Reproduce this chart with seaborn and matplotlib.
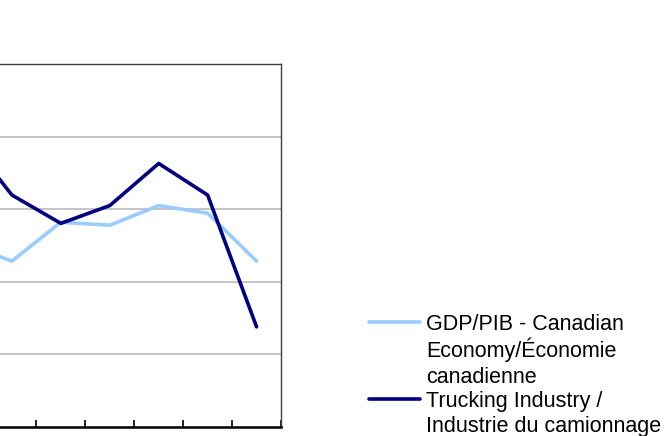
import numpy as np
import pandas as pd
import seaborn as sns
import matplotlib.pyplot as plt
from matplotlib.lines import Line2D

# данные (читаются с картинки, первая точка за левым краем)
periods = [0, 1, 2, 3, 4, 5, 6]
gdp = [1.07, 0.57, 1.64, 1.56, 2.10, 1.89, 0.57]
trucking = [4.11, 2.39, 1.61, 2.10, 3.26, 2.39, -1.24]

gdp_label = ['GDP/PIB - Canadian', 'Economy/Économie', 'canadienne']
truck_label = ['Trucking Industry /', 'Industrie du camionnage']

colors = ['#99CCFF', '#000080']

df = pd.DataFrame({
    'period': periods * 2,
    'value': gdp + trucking,
    'series': ['gdp'] * len(gdp) + ['trucking'] * len(trucking),
})

sns.set_style('white')
plt.rcParams['font.family'] = ['Liberation Sans', 'DejaVu Sans']

fig = plt.figure(figsize=(6.72, 4.36), dpi=100)
# оси частично за левым краем рисунка
ax = fig.add_axes([-0.0915, 0.0206, 0.5097, 0.8326])

sns.lineplot(data=df, x='period', y='value', hue='series',
             palette=colors, linewidth=2.6, legend=False, ax=ax)

ax.set_xlim(-0.5, 6.5)
ax.set_ylim(-4, 6)
ax.set_yticks([-2, 0, 2, 4])
ax.yaxis.grid(True, color='#C0C0C0', linewidth=1.3)
ax.set_axisbelow(True)
ax.set_xticks(np.arange(-0.5, 7, 1))
ax.set_xticklabels([])
ax.set_yticklabels([])
ax.set_xlabel('')
ax.set_ylabel('')
ax.tick_params(axis='x', direction='in', length=5, width=1.2, color='black', bottom=True)
ax.tick_params(axis='y', length=0)

for s in ['top', 'right', 'left']:
    ax.spines[s].set_color('#404040')
    ax.spines[s].set_linewidth(1.0)
ax.spines['bottom'].set_color('black')
ax.spines['bottom'].set_linewidth(1.8)

# легенда вручную
W, H = 672, 436
def fx(x): return x / W
def fy(y): return 1 - y / H

for col, ly in zip(colors, [321.7, 399.3]):
    fig.add_artist(Line2D([fx(369), fx(420)], [fy(ly), fy(ly)],
                          color=col, linewidth=2.6, transform=fig.transFigure))

lines = gdp_label + truck_label
baselines = [330, 356.5, 383, 406.5, 432]
for txt, b in zip(lines, baselines):
    fig.text(fx(426), fy(b), txt, fontsize=15.5, va='baseline', ha='left', color='black')

fig.savefig('out.png', dpi=100)
